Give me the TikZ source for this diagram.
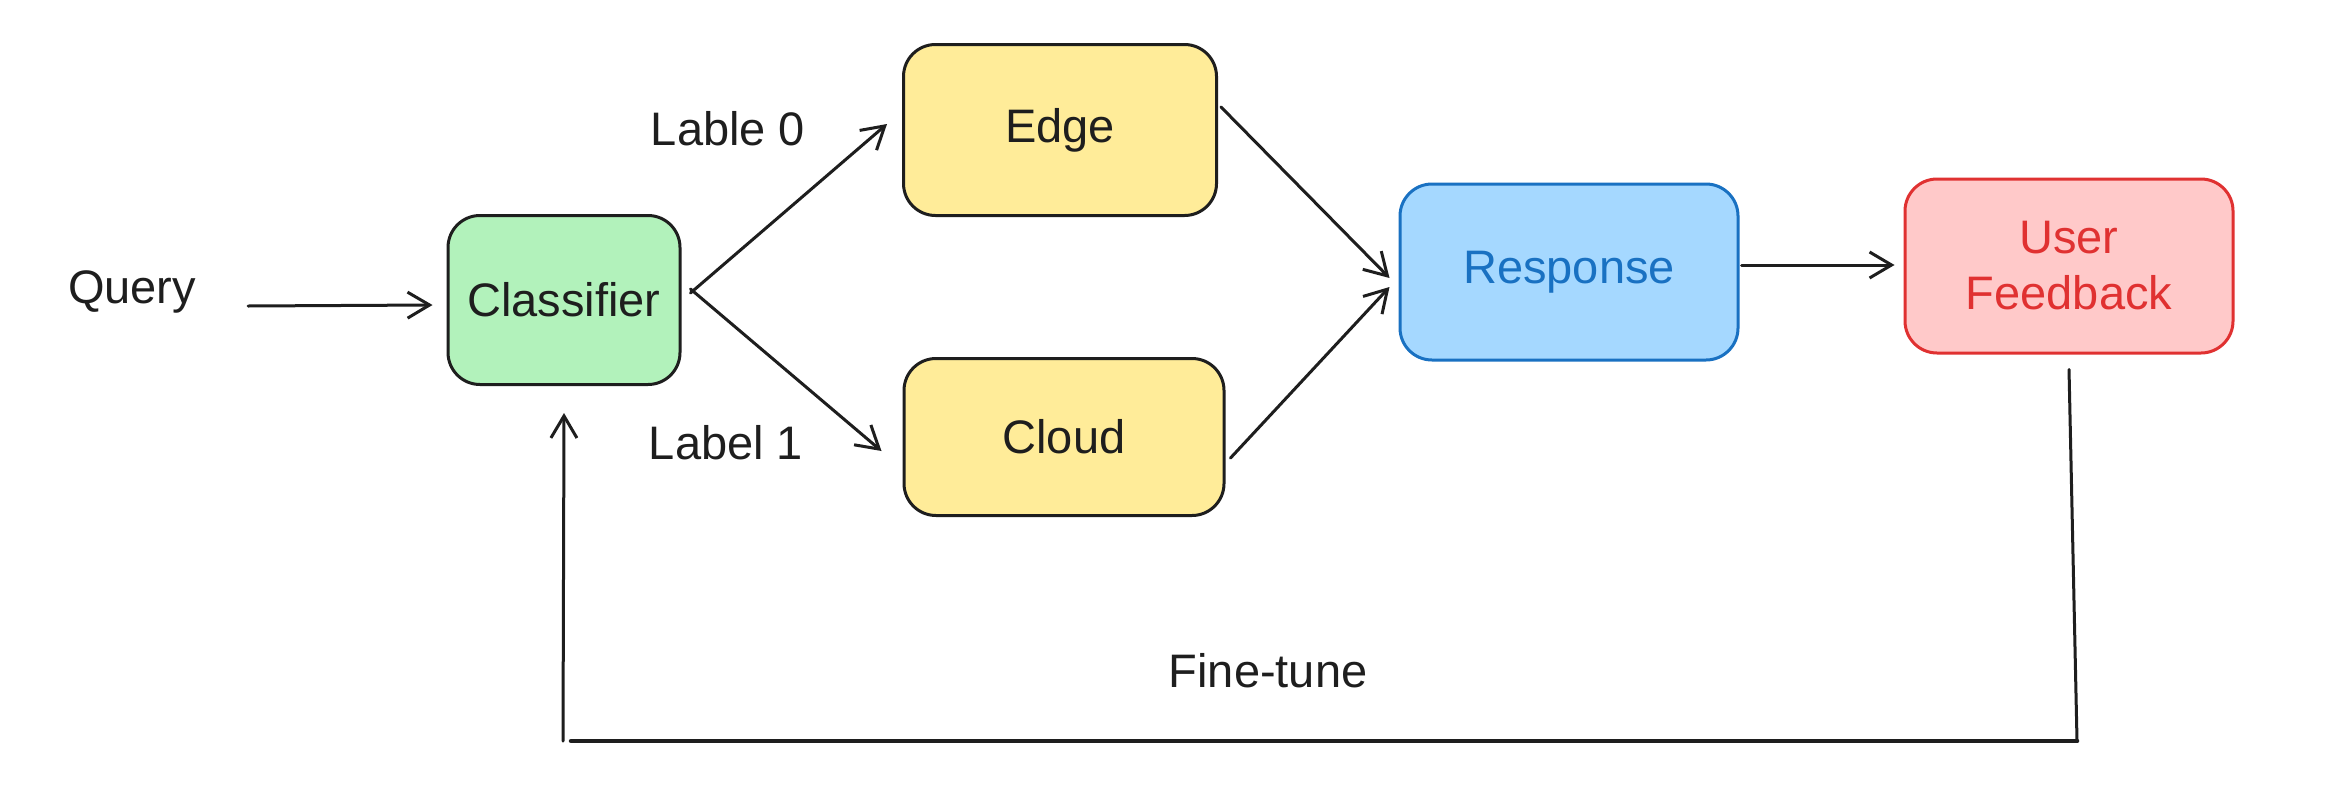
\documentclass[tikz,border=0pt]{standalone}
\usepackage{fontspec}
\setmainfont{Liberation Sans}
\usetikzlibrary{arrows.meta,calc}
\definecolor{ink}{HTML}{1E1E1E}
\definecolor{gfill}{HTML}{B2F2BB}
\definecolor{yfill}{HTML}{FFEC99}
\definecolor{bfill}{HTML}{A5D8FF}
\definecolor{bstroke}{HTML}{1971C2}
\definecolor{rfill}{HTML}{FFC9C9}
\definecolor{rstroke}{HTML}{E03131}
\tikzset{
  box/.style={draw=ink, line width=3pt, rounded corners=32pt, align=center,
    font=\fontsize{47}{56}\selectfont, text=ink, inner sep=0pt},
  lbl/.style={font=\fontsize{47}{56}\selectfont, text=ink, inner sep=0pt},
  arr/.style={draw=ink, line width=3pt, line cap=round,
    -{Straight Barb[length=22pt,width=26pt,line width=3pt]}},
  ln/.style={draw=ink, line width=3pt, line cap=round},
}
\begin{document}
\begin{tikzpicture}[x=1pt,y=-1pt]
\useasboundingbox[fill=white] (0,0) rectangle (2333,803);
\node[box, fill=gfill, minimum width=232pt, minimum height=169pt] (cls) at (564,300) {Classifier};
\node[box, fill=yfill, minimum width=313pt, minimum height=171pt] (edge) at (1060,130) {Edge};
\node[box, fill=yfill, minimum width=320pt, minimum height=157pt] (cloud) at (1064,437) {Cloud};
\node[box, fill=bfill, draw=bstroke, text=bstroke, minimum width=338pt, minimum height=176pt] (resp) at (1569,272) {Response};
\node[box, fill=rfill, draw=rstroke, text=rstroke, minimum width=328pt, minimum height=174pt] (uf) at (2069,266) {User\\Feedback};
\node[lbl] (query) at (132,292) {Query};
\node[lbl] (l0) at (728,129) {Lable 0};
\node[lbl] (l1) at (726,443) {Label 1};
\node[lbl] (ft) at (1268,671) {Fine-tune};
\draw[arr] ([xshift=52pt,yshift=-14pt]query.east) -- ([xshift=-14pt,yshift=-5pt]cls.west);
\draw[arr] ([xshift=9pt,yshift=7pt]cls.east) -- ([xshift=-15pt,yshift=6pt]edge.west);
\draw[arr] ([xshift=9pt,yshift=11pt]cls.east) -- ([xshift=-21pt,yshift=-14pt]cloud.west);
\draw[arr] ([xshift=3pt,yshift=23pt]edge.east) -- ([xshift=-9pt,yshift=-6pt]resp.west);
\draw[arr] ([xshift=5pt,yshift=-21pt]cloud.east) -- ([xshift=-9pt,yshift=-15pt]resp.west);
\draw[arr] ([xshift=2pt,yshift=7pt]resp.east) -- ([xshift=-9pt,yshift=1pt]uf.west);
\coordinate (c1) at (2077,741);
\coordinate (c2) at (571,741);
\coordinate (c3) at (563,741);
\draw[ln] ([yshift=-15pt]uf.south) -- (c1);
\draw[ink, line width=4.5pt, line cap=round] (c1) -- (c2);
\draw[arr] (c3) -- ([yshift=-27pt]cls.south);
\end{tikzpicture}
\end{document}
